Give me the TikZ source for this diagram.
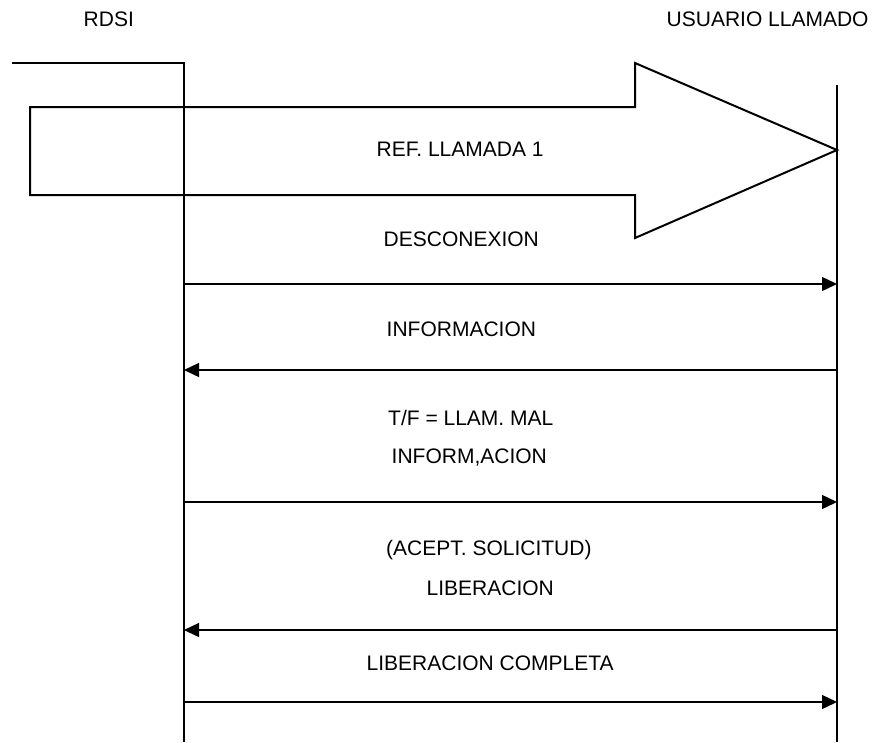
\documentclass[tikz,border=0pt]{standalone}
\usepackage{fontspec}
\setmainfont{Liberation Sans}
\usetikzlibrary{arrows.meta}
\begin{document}
\begin{tikzpicture}[x=1pt,y=-1pt,
  lbl/.style={anchor=base west,inner sep=0pt,font=\fontsize{21}{25}\selectfont},
  life/.style={line width=1.4pt},
  msg/.style={line width=1.4pt,-{Triangle[length=15pt,width=14pt]}},
  bigarrow/.style={line width=2pt,line join=miter}]
\useasboundingbox (0,0) rectangle (873,742);
% header labels
\node[lbl] (rdsi) at (83.5,26) {RDSI};
\node[lbl] (usr) at (666.5,26) {USUARIO LLAMADO};
% lifelines
\coordinate (lstart) at (12,63);
\coordinate (ltop) at (184,63);
\coordinate (lbot) at (184,742);
\coordinate (rtop) at (837,85);
\coordinate (rbot) at (837,742);
\draw[life] (lstart) -- (ltop) -- (lbot);
\draw[life] (rtop) -- (rbot);
% big arrow
\coordinate (b1) at (30,107);
\coordinate (b2) at (635,107);
\coordinate (b3) at (635,63);
\coordinate (btip) at (837,150);
\coordinate (b5) at (635,238);
\coordinate (b6) at (635,195);
\coordinate (b7) at (30,195);
\draw[bigarrow] (b1) -- (b2) -- (b3) -- (btip) -- (b5) -- (b6) -- (b7) -- cycle;
\node[lbl] (ref) at (376.5,156) {REF. LLAMADA 1};
% messages
\node[lbl] (t1) at (383.5,246) {DESCONEXION};
\coordinate (m1a) at (184,284);
\coordinate (m1b) at (837,284);
\draw[msg] (m1a) -- (m1b);
\node[lbl] (t2) at (386.5,336) {INFORMACION};
\coordinate (m2a) at (837,370);
\coordinate (m2b) at (184,370);
\draw[msg] (m2a) -- (m2b);
\node[lbl] (t3) at (388,425) {T/F = LLAM. MAL};
\node[lbl] (t4) at (391.5,463) {INFORM,ACION};
\coordinate (m3a) at (184,502);
\coordinate (m3b) at (837,502);
\draw[msg] (m3a) -- (m3b);
\node[lbl] (t5) at (386,555) {(ACEPT. SOLICITUD)};
\node[lbl] (t6) at (426.5,595) {LIBERACION};
\coordinate (m4a) at (837,630);
\coordinate (m4b) at (184,630);
\draw[msg] (m4a) -- (m4b);
\node[lbl] (t7) at (366.5,670) {LIBERACION COMPLETA};
\coordinate (m5a) at (184,702);
\coordinate (m5b) at (837,702);
\draw[msg] (m5a) -- (m5b);
\end{tikzpicture}
\end{document}
